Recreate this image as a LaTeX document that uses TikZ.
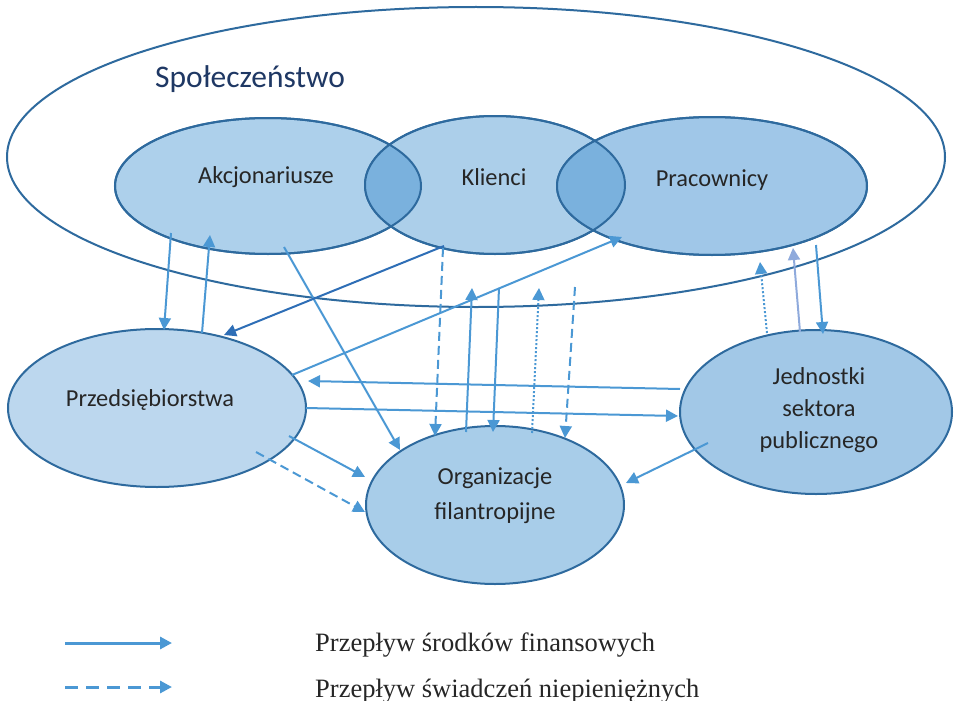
\documentclass[tikz,border=0pt]{standalone}
\usepackage{fontspec}
\setmainfont{Liberation Serif}
\newfontfamily\carl{Carlito}
\usetikzlibrary{shapes.geometric,arrows.meta,calc}
\definecolor{bord}{RGB}{46,106,158}
\definecolor{akcf}{RGB}{173,208,235}
\definecolor{klif}{RGB}{172,207,234}
\definecolor{praf}{RGB}{160,199,232}
\definecolor{lensf}{RGB}{122,177,221}
\definecolor{przf}{RGB}{188,215,238}
\definecolor{orgf}{RGB}{168,205,233}
\definecolor{jedf}{RGB}{162,200,231}
\definecolor{arr}{RGB}{75,152,212}
\definecolor{arrdark}{RGB}{46,110,182}
\definecolor{arrlight}{RGB}{143,170,220}
\definecolor{txt}{RGB}{38,38,38}
\definecolor{soctxt}{RGB}{31,56,100}
\tikzset{
  ell/.style={ellipse, draw=bord, line width=2pt, inner sep=0pt, outer sep=0pt},
  lbl/.style={font=\carl\fontsize{24.4}{32}\selectfont, text=txt, align=center, inner sep=0pt},
  fin/.style={draw=arr, line width=2pt, -{Triangle[length=12pt,width=12pt]}},
  nonfin/.style={fin, dash pattern=on 9pt off 5pt},
  dotfl/.style={fin, dash pattern=on 2pt off 2pt},
  legfin/.style={draw=arr, line width=3pt, -{Triangle[length=12pt,width=12pt]}},
  legnon/.style={legfin, dash pattern=on 13pt off 8pt},
  legtxt/.style={font=\fontsize{26.5}{30}\selectfont, text=txt, anchor=base west, inner sep=0pt}
}
\begin{document}
\begin{tikzpicture}[x=1pt,y=-1pt]
\useasboundingbox (0,0) rectangle (956,701);
% society
\node[ell, fill=white, minimum width=938pt, minimum height=300pt] (soc) at (476,157) {};
\node[anchor=base west, font=\carl\fontsize{31.5}{36}\selectfont, text=soctxt, inner sep=0pt] (socT) at (155,88) {Społeczeństwo};
% top three
\node[ell, fill=akcf, minimum width=306pt, minimum height=136pt] (akc) at (268,186) {};
\node[ell, fill=klif, minimum width=260pt, minimum height=138pt] (kli) at (495,185) {};
\node[ell, fill=praf, minimum width=310pt, minimum height=138pt] (pra) at (712,186) {};
\begin{scope}
  \clip (akc.center) ellipse [x radius=153pt, y radius=68pt];
  \fill[lensf] (kli.center) ellipse [x radius=130pt, y radius=69pt];
\end{scope}
\begin{scope}
  \clip (pra.center) ellipse [x radius=155pt, y radius=69pt];
  \fill[lensf] (kli.center) ellipse [x radius=130pt, y radius=69pt];
\end{scope}
\draw[bord, line width=2pt] (akc.center) ellipse [x radius=153pt, y radius=68pt];
\draw[bord, line width=2pt] (kli.center) ellipse [x radius=130pt, y radius=69pt];
\draw[bord, line width=2pt] (pra.center) ellipse [x radius=155pt, y radius=69pt];
% lower three
\node[ell, fill=przf, minimum width=298pt, minimum height=158pt] (prz) at (157,408) {};
\node[ell, fill=orgf, minimum width=258pt, minimum height=158pt] (org) at (495,505) {};
\node[ell, fill=jedf, minimum width=272pt, minimum height=164pt] (jed) at (816,412) {};
% labels
\node[lbl] (akcT) at (266,177) {Akcjonariusze};
\node[lbl] (kliT) at (494,177) {Klienci};
\node[lbl] (praT) at (712,180) {Pracownicy};
\node[lbl] (przT) at (150,400) {Przedsiębiorstwa};
\node[lbl, font=\carl\fontsize{24.4}{35}\selectfont] (orgT) at (495,496) {Organizacje\\filantropijne};
\node[lbl] (jedT) at (819,410) {Jednostki\\sektora\\publicznego};
% connectors
\draw[fin] ($(akc)+(-97,47)$) -- ($(prz)+(7,-78)$);
\draw[fin] ($(prz)+(45,-75)$) -- ($(akc)+(-58,49)$);
\draw[fin] ($(akc)+(16,61)$) -- ($(org)+(-95,-55)$);
\draw[fin, draw=arrdark] ($(kli)+(-51,61)$) -- ($(prz)+(67,-73)$);
\draw[nonfin] ($(kli)+(-52,63)$) -- ($(org)+(-60,-69)$);
\draw[fin] ($(prz)+(135,-33)$) -- ($(pra)+(-90,51)$);
\draw[fin] ($(org)+(-29,-73)$) -- ($(kli)+(-23,103)$);
\draw[fin] ($(kli)+(4,103)$) -- ($(org)+(-2,-73)$);
\draw[dotfl] ($(org)+(37,-72)$) -- ($(kli)+(44,103)$);
\draw[nonfin] ($(kli)+(80,102)$) -- ($(org)+(70,-67)$);
\draw[dotfl] ($(jed)+(-49,-79)$) -- ($(pra)+(48,76)$);
\draw[fin, draw=arrlight] ($(jed)+(-16,-80)$) -- ($(pra)+(81,62)$);
\draw[fin] ($(pra)+(104,59)$) -- ($(jed)+(7,-78)$);
\draw[fin] ($(jed)+(-136,-23)$) -- ($(prz)+(151,-27)$);
\draw[fin] ($(prz)+(149,0)$) -- ($(jed)+(-138,4)$);
\draw[fin] ($(jed)+(-108,31)$) -- ($(org)+(131,-22)$);
\draw[fin] ($(prz)+(132,28)$) -- ($(org)+(-130,-28)$);
\draw[nonfin] ($(prz)+(99,44)$) -- ($(org)+(-130,7)$);
% legend
\coordinate (l1a) at (65,643);
\coordinate (l1b) at (172,643);
\coordinate (l2a) at (65,687);
\coordinate (l2b) at (172,687);
\draw[legfin] (l1a) -- (l1b);
\draw[legnon] (l2a) -- (l2b);
\node[legtxt] (t1) at (315,651) {Przepływ środków finansowych};
\node[legtxt] (t2) at (315,697) {Przepływ świadczeń niepieniężnych};
\end{tikzpicture}
\end{document}
